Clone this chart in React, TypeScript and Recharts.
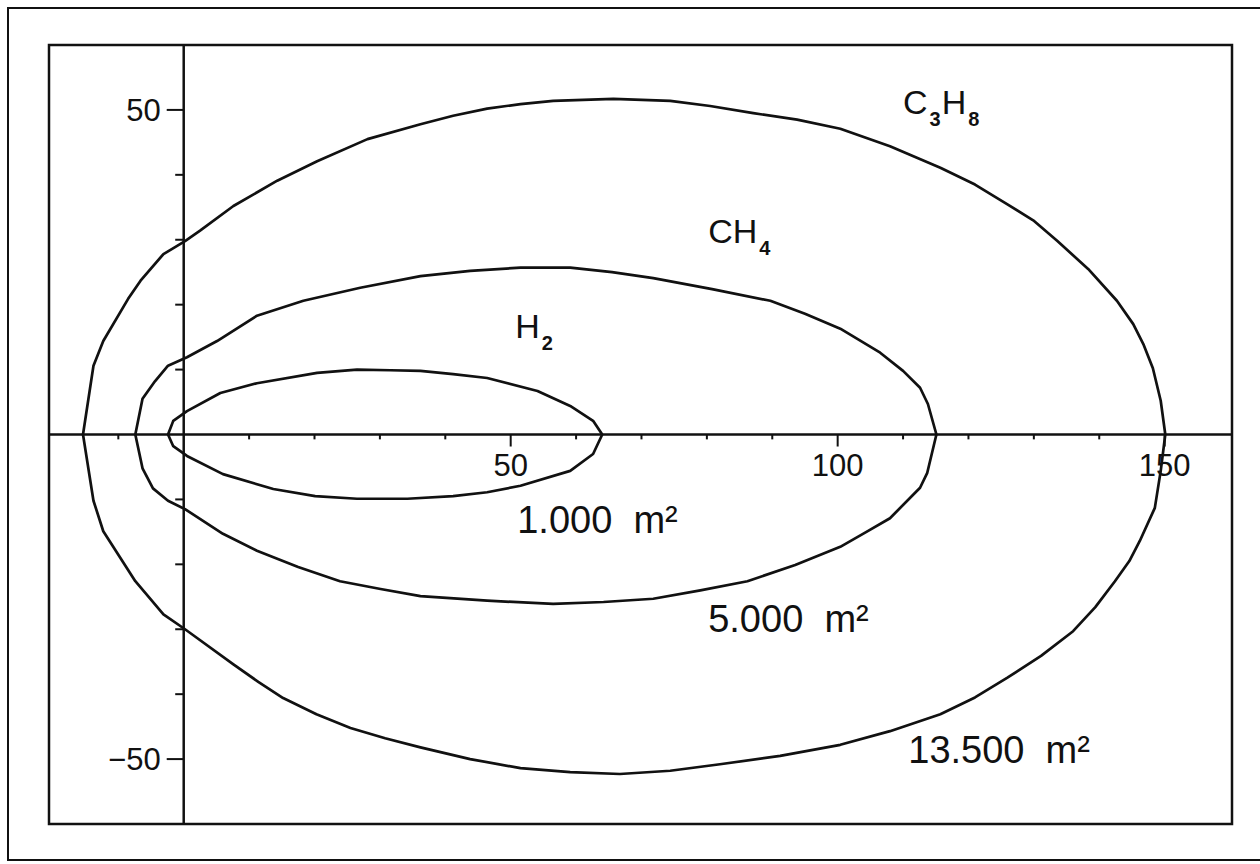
import { LineChart, Line, XAxis, YAxis, ReferenceLine, ReferenceArea, ReferenceDot } from 'recharts';

type Pt = { x: number; y: number };

// contour of the hazard zone for each gas (distance in m)
const h2Contour: Pt[] = [
  { x: 64.0, y: 0 }, { x: 62.6, y: 2.1 }, { x: 59.1, y: 4.4 }, { x: 54.1, y: 6.7 },
  { x: 46.4, y: 8.7 }, { x: 41.2, y: 9.3 }, { x: 36.2, y: 9.8 }, { x: 31.6, y: 9.9 },
  { x: 26.5, y: 10.0 }, { x: 20.4, y: 9.5 }, { x: 11.2, y: 7.9 }, { x: 5.6, y: 6.4 },
  { x: 0.5, y: 3.6 }, { x: -1.6, y: 2.1 }, { x: -2.4, y: 0 }, { x: -1.6, y: -1.8 },
  { x: 0.5, y: -3.3 }, { x: 6.0, y: -6.1 }, { x: 13.7, y: -8.4 }, { x: 20.1, y: -9.5 },
  { x: 26.5, y: -9.9 }, { x: 34.2, y: -9.9 }, { x: 41.2, y: -9.5 }, { x: 46.4, y: -8.9 },
  { x: 51.5, y: -7.9 }, { x: 59.1, y: -5.6 }, { x: 62.6, y: -3.0 }, { x: 64.0, y: 0 },
];

const ch4Contour: Pt[] = [
  { x: 115.1, y: 0 }, { x: 113.8, y: 4.7 }, { x: 112.6, y: 7.2 }, { x: 110.0, y: 9.8 },
  { x: 106.5, y: 12.6 }, { x: 100.4, y: 16.3 }, { x: 95.0, y: 18.6 }, { x: 89.7, y: 20.6 },
  { x: 80.8, y: 22.4 }, { x: 71.8, y: 24.1 }, { x: 65.5, y: 25.0 }, { x: 59.1, y: 25.7 },
  { x: 51.5, y: 25.7 }, { x: 43.8, y: 25.2 }, { x: 36.2, y: 24.4 }, { x: 27.0, y: 22.6 },
  { x: 18.3, y: 20.6 }, { x: 11.2, y: 18.3 }, { x: 5.1, y: 14.4 }, { x: 0.5, y: 11.9 },
  { x: -2.4, y: 10.6 }, { x: -4.4, y: 8.2 }, { x: -6.3, y: 5.5 }, { x: -7.4, y: 0 },
  { x: -6.3, y: -5.2 }, { x: -4.7, y: -8.3 }, { x: -2.4, y: -10.2 }, { x: 0.2, y: -11.5 },
  { x: 6.0, y: -15.3 }, { x: 11.2, y: -17.9 }, { x: 17.5, y: -20.4 }, { x: 23.9, y: -22.6 },
  { x: 30.1, y: -23.8 }, { x: 36.2, y: -24.9 }, { x: 46.4, y: -25.6 }, { x: 56.5, y: -26.1 },
  { x: 64.2, y: -25.8 }, { x: 71.8, y: -25.3 }, { x: 79.0, y: -24.0 }, { x: 86.2, y: -22.6 },
  { x: 93.5, y: -20.1 }, { x: 100.4, y: -17.3 }, { x: 104.4, y: -15.0 }, { x: 108.0, y: -12.9 },
  { x: 112.6, y: -8.2 }, { x: 113.7, y: -5.9 }, { x: 115.1, y: 0 },
];

const c3h8Contour: Pt[] = [
  { x: 150.1, y: 0 }, { x: 149.4, y: 5.2 }, { x: 148.2, y: 10.2 }, { x: 146.8, y: 13.8 },
  { x: 145.2, y: 17.0 }, { x: 142.7, y: 20.6 }, { x: 138.3, y: 25.5 }, { x: 133.6, y: 29.8 },
  { x: 129.9, y: 33.0 }, { x: 125.9, y: 35.5 }, { x: 121.0, y: 38.5 }, { x: 115.7, y: 41.1 },
  { x: 108.0, y: 44.4 }, { x: 100.4, y: 47.1 }, { x: 93.8, y: 48.5 }, { x: 87.1, y: 49.5 },
  { x: 80.5, y: 50.6 }, { x: 74.4, y: 51.4 }, { x: 65.7, y: 51.7 }, { x: 56.5, y: 51.4 },
  { x: 51.5, y: 50.9 }, { x: 46.4, y: 50.2 }, { x: 41.2, y: 49.1 }, { x: 36.2, y: 47.8 },
  { x: 28.1, y: 45.5 }, { x: 20.4, y: 42.1 }, { x: 14.3, y: 39.1 }, { x: 7.6, y: 35.2 },
  { x: 2.5, y: 31.4 }, { x: 0.2, y: 29.8 }, { x: -3.1, y: 27.8 }, { x: -6.6, y: 23.7 },
  { x: -8.5, y: 20.9 }, { x: -12.3, y: 14.4 }, { x: -13.8, y: 10.6 }, { x: -15.4, y: 0 },
  { x: -13.8, y: -10.2 }, { x: -12.3, y: -14.9 }, { x: -7.4, y: -22.6 }, { x: -3.1, y: -27.7 },
  { x: 0.2, y: -30.0 }, { x: 7.6, y: -35.4 }, { x: 11.4, y: -38.1 }, { x: 15.2, y: -40.6 },
  { x: 20.3, y: -43.1 }, { x: 25.5, y: -45.2 }, { x: 30.8, y: -46.8 }, { x: 36.2, y: -48.2 },
  { x: 43.8, y: -50.0 }, { x: 51.5, y: -51.4 }, { x: 59.1, y: -52.0 }, { x: 66.7, y: -52.3 },
  { x: 74.4, y: -51.8 }, { x: 82.0, y: -50.8 }, { x: 91.2, y: -49.5 }, { x: 100.4, y: -47.8 },
  { x: 108.0, y: -45.7 }, { x: 115.7, y: -43.1 }, { x: 121.0, y: -40.5 }, { x: 125.9, y: -37.5 },
  { x: 131.1, y: -34.1 }, { x: 136.0, y: -30.3 }, { x: 139.4, y: -26.6 }, { x: 142.4, y: -22.6 },
  { x: 144.6, y: -19.5 }, { x: 146.2, y: -16.4 }, { x: 148.5, y: -11.3 }, { x: 149.4, y: -5.6 },
  { x: 150.1, y: 0 },
];

const xMinorTicks = [-10, 10, 20, 30, 40, 60, 70, 80, 90, 110, 120, 130, 140];
const xMajorTicks = [50, 100, 150];
const yMinorTicks = [40, 30, 20, 10, -10, -20, -30, -40];
const yMajorTicks = [50, -50];
const yTickLabels = ['50', '\u221250'];

// gas names: [text, isSubscript]
const gasNames: { x: number; y: number; parts: [string, boolean][] }[] = [
  { x: 110.0, y: 49.4, parts: [['C', false], ['3', true], ['H', false], ['8', true]] },
  { x: 80.2, y: 29.5, parts: [['CH', false], ['4', true]] },
  { x: 50.7, y: 14.9, parts: [['H', false], ['2', true]] },
];

const areaLabels = [
  { x: 51.0, y: -15.2, text: '1.000\u00a0\u00a0m\u00b2' },
  { x: 80.2, y: -30.4, text: '5.000\u00a0\u00a0m\u00b2' },
  { x: 110.8, y: -50.6, text: '13.500\u00a0\u00a0m\u00b2' },
];

const X_DOMAIN: [number, number] = [-20.6, 160.3];
const Y_DOMAIN: [number, number] = [-60, 60];
const FONT = '"Liberation Sans", Arial, Helvetica, sans-serif';
const INK = '#111';

const textAt = (text: string, size: number, anchor: 'start' | 'middle' | 'end', dx: number, dy: number) =>
  (props: any) => {
    const vb = props.viewBox || {};
    return (
      <text x={vb.x + dx} y={vb.y + dy} textAnchor={anchor} fontSize={size} fontFamily={FONT} fill={INK}>
        {text}
      </text>
    );
  };

const gasText = (parts: [string, boolean][]) => (props: any) => {
  const vb = props.viewBox || {};
  return (
    <text x={vb.x} y={vb.y} fontFamily={FONT} fill={INK}>
      {parts.map(([t, sub], i) => (
        <tspan
          key={i}
          fontSize={sub ? 20 : 34}
          fontWeight={sub ? 700 : 400}
          dx={sub ? 2 : i > 0 ? 1 : 0}
          dy={sub ? 12 : i > 0 ? -12 : 0}
        >
          {t}
        </tspan>
      ))}
    </text>
  );
};

export default function App() {
  return (
    <div style={{ position: 'absolute', left: 0, top: 0, width: 1260, height: 864, background: '#fff', overflow: 'hidden' }}>
      <div
        style={{
          position: 'absolute',
          left: 7,
          top: 7,
          width: 1253,
          height: 854,
          borderTop: `2px solid ${INK}`,
          borderLeft: `2px solid ${INK}`,
          borderBottom: `2px solid ${INK}`,
          borderRight: 'none',
          boxSizing: 'border-box',
        }}
      />
      <div style={{ position: 'absolute', left: 0, top: 0 }}>
        <LineChart width={1260} height={864} margin={{ top: 45, left: 49, right: 28, bottom: 40 }}>
          <XAxis type="number" dataKey="x" domain={X_DOMAIN} allowDataOverflow hide />
          <YAxis type="number" dataKey="y" domain={Y_DOMAIN} allowDataOverflow hide />
          <ReferenceArea
            x1={X_DOMAIN[0]}
            x2={X_DOMAIN[1]}
            y1={Y_DOMAIN[0]}
            y2={Y_DOMAIN[1]}
            fill="none"
            fillOpacity={0}
            stroke={INK}
            strokeWidth={2.5}
          />
          <ReferenceLine y={0} stroke={INK} strokeWidth={2.5} />
          <ReferenceLine x={0} stroke={INK} strokeWidth={2.5} />
          {xMinorTicks.map((t) => (
            <ReferenceLine key={`xm${t}`} segment={[{ x: t, y: 0 }, { x: t, y: -0.75 }]} stroke={INK} strokeWidth={2} />
          ))}
          {xMajorTicks.map((t) => (
            <ReferenceLine key={`xM${t}`} segment={[{ x: t, y: 0 }, { x: t, y: -1.85 }]} stroke={INK} strokeWidth={2} />
          ))}
          {yMinorTicks.map((t) => (
            <ReferenceLine key={`ym${t}`} segment={[{ x: -1.3, y: t }, { x: 0, y: t }]} stroke={INK} strokeWidth={2} />
          ))}
          {yMajorTicks.map((t) => (
            <ReferenceLine key={`yM${t}`} segment={[{ x: -2.6, y: t }, { x: 0, y: t }]} stroke={INK} strokeWidth={2} />
          ))}
          {xMajorTicks.map((t) => (
            <ReferenceDot key={`xl${t}`} x={t} y={0} r={0} fill="none" stroke="none" label={textAt(String(t), 31, 'middle', 0, 41)} />
          ))}
          {yMajorTicks.map((t, i) => (
            <ReferenceDot key={`yl${t}`} x={0} y={t} r={0} fill="none" stroke="none" label={textAt(yTickLabels[i], 31, 'end', -23, 11)} />
          ))}
          <Line data={c3h8Contour} dataKey="y" type="linear" stroke={INK} strokeWidth={2.7} strokeLinejoin="round" dot={false} isAnimationActive={false} />
          <Line data={ch4Contour} dataKey="y" type="linear" stroke={INK} strokeWidth={2.7} strokeLinejoin="round" dot={false} isAnimationActive={false} />
          <Line data={h2Contour} dataKey="y" type="linear" stroke={INK} strokeWidth={2.7} strokeLinejoin="round" dot={false} isAnimationActive={false} />
          {gasNames.map((g, i) => (
            <ReferenceDot key={`g${i}`} x={g.x} y={g.y} r={0} fill="none" stroke="none" label={gasText(g.parts)} />
          ))}
          {areaLabels.map((a, i) => (
            <ReferenceDot key={`a${i}`} x={a.x} y={a.y} r={0} fill="none" stroke="none" label={textAt(a.text, 38, 'start', 0, 0)} />
          ))}
        </LineChart>
      </div>
    </div>
  );
}
